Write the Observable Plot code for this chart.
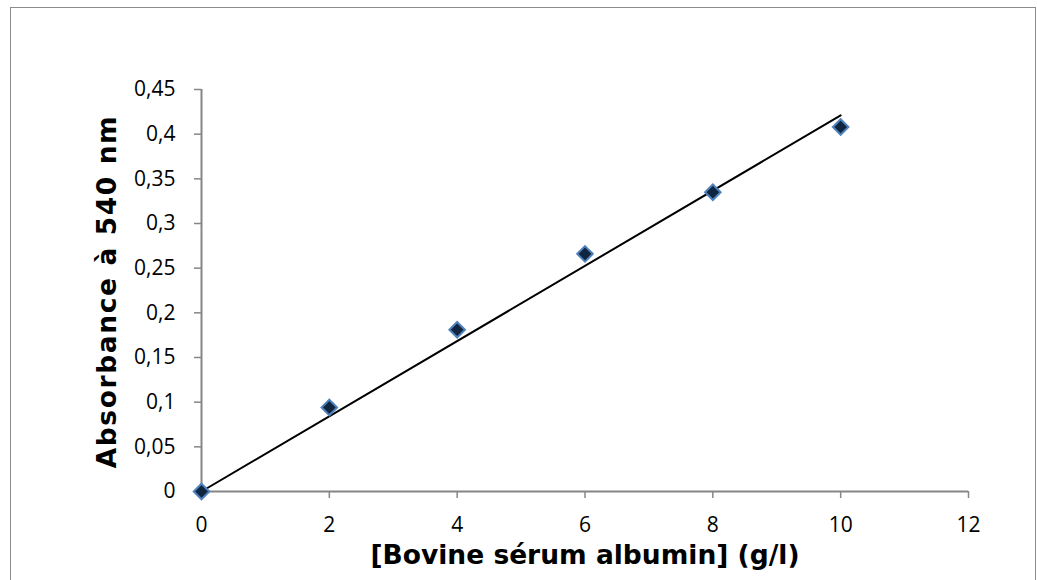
<!DOCTYPE html>
<html>
<head>
<meta charset="utf-8">
<script src="https://cdn.jsdelivr.net/npm/d3@7"></script>
<script src="https://cdn.jsdelivr.net/npm/@observablehq/plot@0.6"></script>
<style>
  html, body { margin: 0; padding: 0; background: #fff; overflow: hidden; }
  #wrap { position: relative; width: 1037px; height: 580px; }
  #frame { position: absolute; left: 10px; top: 7px; width: 1026px; height: 640px; border: 1.5px solid #8c8c8c; box-sizing: border-box; pointer-events: none; }
  #chart { position: absolute; left: 0; top: 0; }
  .ytitle text { letter-spacing: 1.6px; }
</style>
</head>
<body>
<div id="wrap"><div id="chart"></div><div id="frame"></div></div>
<script>
// Data
const concentration = [0, 2, 4, 6, 8, 10];
const absorbance = [0, 0.094, 0.181, 0.266, 0.335, 0.408];
const trendX = [0, 10];
const trendY = [0, 0.421];
const xTicks = [0, 2, 4, 6, 8, 10, 12];
const yTicks = [0, 0.05, 0.1, 0.15, 0.2, 0.25, 0.3, 0.35, 0.4, 0.45];
const yTickLabels = ["0", "0,05", "0,1", "0,15", "0,2", "0,25", "0,3", "0,35", "0,4", "0,45"];
const xTitle = "[Bovine sérum albumin] (g/l)";
const yTitle = "Absorbance à 540 nm";

const points = concentration.map((c, i) => ({c, a: absorbance[i]}));
const trend = trendX.map((x, i) => ({x, y: trendY[i]}));
const axisColor = "#868686";
const tickFont = "Open Sans, sans-serif";
const titleFont = "DejaVu Sans, sans-serif";

const chart = Plot.plot({
  width: 1037,
  height: 580,
  marginLeft: 201,
  marginRight: 69,
  marginTop: 89,
  marginBottom: 89,
  style: {fontFamily: tickFont, fontSize: "21px", color: "#000", background: "transparent"},
  x: {domain: [0, 12]},
  y: {domain: [0, 0.45]},
  marks: [
    Plot.axisX({ticks: xTicks, tickSize: 7, tickPadding: 19, stroke: axisColor, strokeWidth: 1.5, fill: "#000", label: null, fontSize: 21}),
    Plot.axisY({ticks: yTicks, tickSize: 7, tickPadding: 19, stroke: axisColor, strokeWidth: 1.5, fill: "#000", label: null, fontSize: 21,
      tickFormat: d => yTickLabels[yTicks.findIndex(t => Math.abs(t - d) < 1e-9)]}),
    Plot.ruleY([0], {stroke: axisColor, strokeWidth: 2}),
    Plot.ruleX([0], {stroke: axisColor, strokeWidth: 2}),
    Plot.line(trend, {x: "x", y: "y", stroke: "#000", strokeWidth: 2}),
    Plot.dot(points, {x: "c", y: "a", symbol: "diamond2", r: 7, fill: "#10253F", stroke: "#4F81BD", strokeWidth: 2}),
    Plot.text([xTitle], {frameAnchor: "bottom", dy: 64, text: d => d, textAnchor: "middle", lineAnchor: "middle", fontSize: 26.5, fontWeight: "bold", fontFamily: titleFont, fill: "#000"}),
    Plot.text([yTitle], {className: "ytitle", frameAnchor: "left", dx: -94, dy: 1, rotate: -90, text: d => d, textAnchor: "middle", lineAnchor: "middle", fontSize: 26.5, fontWeight: "bold", fontFamily: titleFont, fill: "#000"})
  ]
});
document.getElementById("chart").appendChild(chart);
</script>
</body>
</html>
